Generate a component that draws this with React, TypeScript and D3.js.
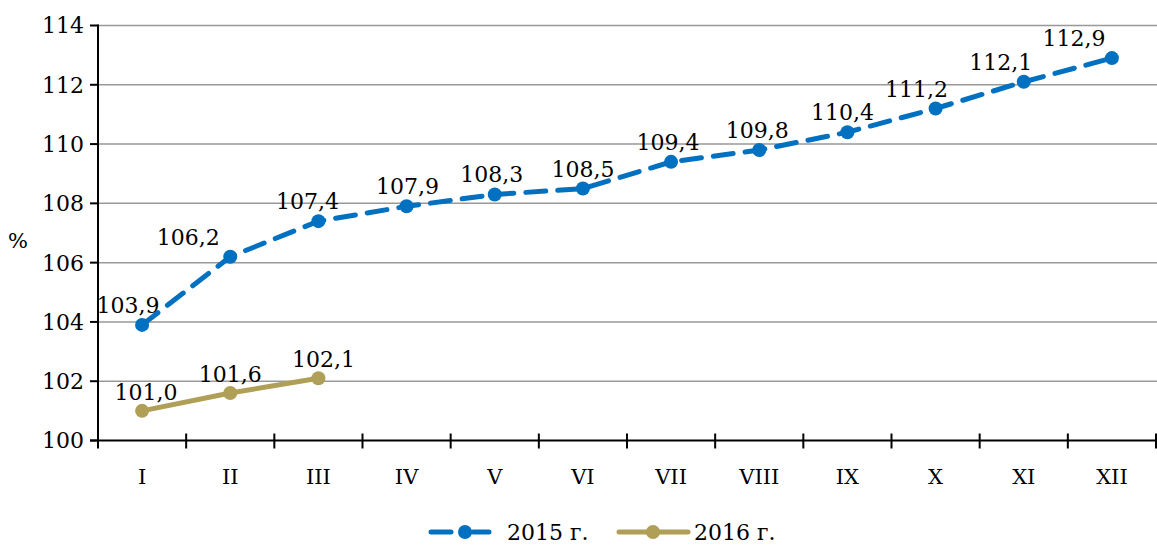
import React from "react";
import * as d3 from "d3";

const months = ["I", "II", "III", "IV", "V", "VI", "VII", "VIII", "IX", "X", "XI", "XII"];
const values2015 = [103.9, 106.2, 107.4, 107.9, 108.3, 108.5, 109.4, 109.8, 110.4, 111.2, 112.1, 112.9];
const values2016 = [101.0, 101.6, 102.1];
const yTicks = [100, 102, 104, 106, 108, 110, 112, 114];
const seriesNames = ["2015 г.", "2016 г."];
// label horizontal nudges (px) as in the reference
const labelDx2015 = [-14, -42, -11, 1, -3, 0, -3, -2, -5, -19, -23, -38];
const labelDx2016 = [4, 0, 5];

const W = 1157;
const H = 545;
const BLUE = "#0070C0";
const GOLD = "#B09F57";
const FONT = "'DejaVu Serif', serif";

export default function App() {
  const left = 98, right = 1156, top = 25.5, bottom = 440.5;
  const x = d3.scaleBand<string>().domain(months).range([left, right]).padding(0);
  const y = d3.scaleLinear().domain([100, 114]).range([bottom, top]);
  const cx = (i: number) => (x(months[i]) as number) + x.bandwidth() / 2;
  const line = d3.line<number>().x((_, i) => cx(i)).y((d) => y(d));
  const fmt = (v: number) => v.toFixed(1).replace(".", ",");

  return (
    <svg width={W} height={H} style={{ position: "absolute", left: 0, top: 0, background: "#fff" }}>
      {yTicks.filter((t) => t !== 100).map((t) => (
        <line key={t} x1={left} x2={W} y1={y(t)} y2={y(t)} stroke="#999" strokeWidth={1.5} />
      ))}
      <line x1={left} x2={left} y1={top - 1} y2={bottom} stroke="#000" strokeWidth={2} />
      {yTicks.map((t) => (
        <g key={t}>
          <line x1={left - 8} x2={left} y1={y(t)} y2={y(t)} stroke="#000" strokeWidth={2} />
          <text x={left - 14} y={y(t)} dy="0.36em" textAnchor="end" fontFamily={FONT} fontSize={22} fill="#000">
            {t}
          </text>
        </g>
      ))}
      <text x={18} y={240} dy="0.36em" textAnchor="middle" fontFamily={FONT} fontSize={21} fill="#000">%</text>
      <line x1={left - 8} x2={right} y1={bottom} y2={bottom} stroke="#000" strokeWidth={2} />
      {months.map((m, i) => (
        <g key={m}>
          <line x1={(x(m) as number) + x.bandwidth()} x2={(x(m) as number) + x.bandwidth()} y1={bottom - 7} y2={bottom + 8} stroke="#000" strokeWidth={2} />
          {i === 0 && <line x1={left} x2={left} y1={bottom} y2={bottom + 8} stroke="#000" strokeWidth={2} />}
          <text x={cx(i)} y={bottom + 36} dy="0.36em" textAnchor="middle" fontFamily={FONT} fontSize={21} fill="#000">
            {m}
          </text>
        </g>
      ))}
      <path d={line(values2015) || ""} fill="none" stroke={BLUE} strokeWidth={5} strokeDasharray="20 12" strokeLinecap="round" />
      {values2015.map((v, i) => (
        <circle key={i} cx={cx(i)} cy={y(v)} r={7} fill={BLUE} />
      ))}
      {values2015.map((v, i) => (
        <text key={"l" + i} x={cx(i) + labelDx2015[i]} y={y(v) - 12} textAnchor="middle" fontFamily={FONT} fontSize={22} fill="#000">
          {fmt(v)}
        </text>
      ))}
      <path d={line(values2016) || ""} fill="none" stroke={GOLD} strokeWidth={5} strokeLinecap="round" />
      {values2016.map((v, i) => (
        <circle key={i} cx={cx(i)} cy={y(v)} r={7} fill={GOLD} />
      ))}
      {values2016.map((v, i) => (
        <text key={"m" + i} x={cx(i) + labelDx2016[i]} y={y(v) - 11} textAnchor="middle" fontFamily={FONT} fontSize={22} fill="#000">
          {fmt(v)}
        </text>
      ))}
      <g>
        <line x1={431} x2={451} y1={532} y2={532} stroke={BLUE} strokeWidth={5} strokeLinecap="round" />
        <line x1={473} x2={489} y1={532} y2={532} stroke={BLUE} strokeWidth={5} strokeLinecap="round" />
        <circle cx={465} cy={532} r={7} fill={BLUE} />
        <text x={507} y={532} dy="0.36em" fontFamily={FONT} fontSize={22} fill="#000">{seriesNames[0]}</text>
        <line x1={619} x2={688} y1={532} y2={532} stroke={GOLD} strokeWidth={5} strokeLinecap="round" />
        <circle cx={653} cy={532} r={7} fill={GOLD} />
        <text x={694} y={532} dy="0.36em" fontFamily={FONT} fontSize={22} fill="#000">{seriesNames[1]}</text>
      </g>
    </svg>
  );
}
